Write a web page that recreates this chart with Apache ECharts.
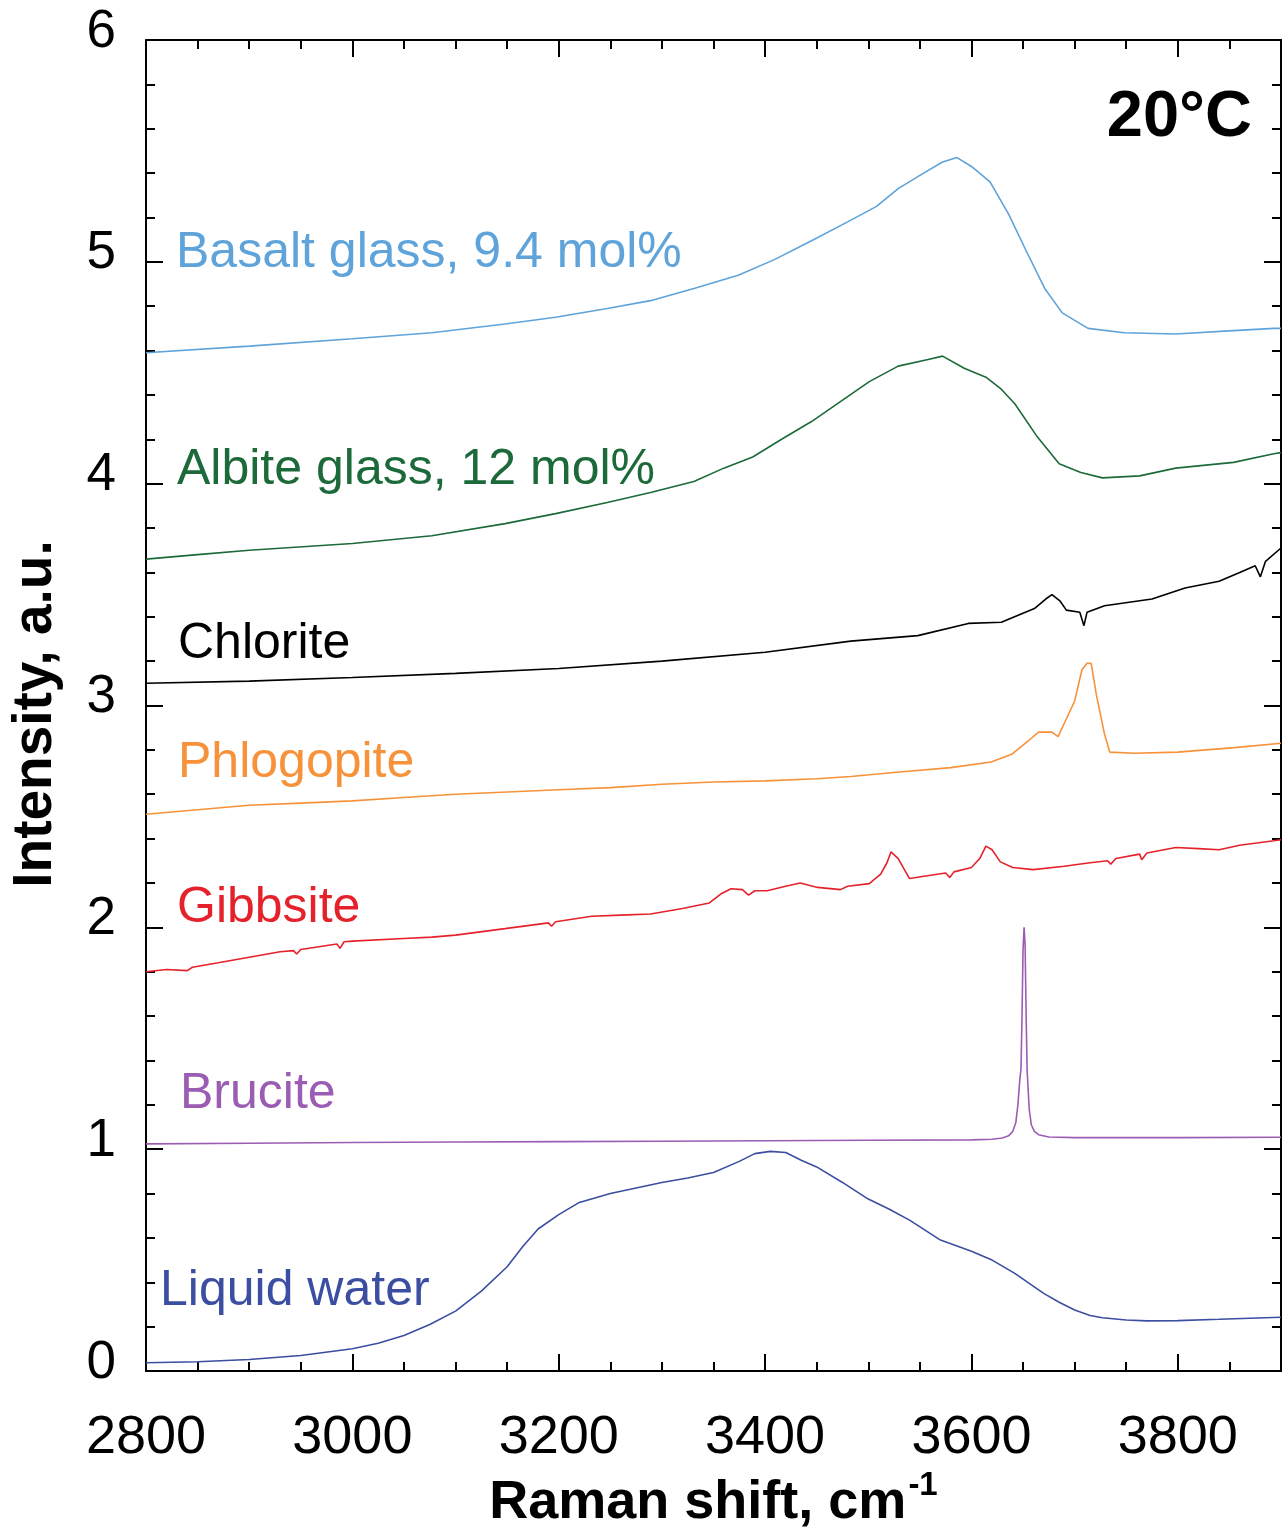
<!DOCTYPE html>
<html>
<head>
<meta charset="utf-8">
<script src="https://cdn.jsdelivr.net/npm/echarts@6/dist/echarts.min.js"></script>
<style>
html,body{margin:0;padding:0;background:#fff;}
#chart{width:1287px;height:1533px;}
</style>
</head>
<body>
<div id="chart"></div>
<script>
// ---- Data (Raman shift cm-1, intensity a.u.) ----
const waterX = [2800,2850,2900,2950,3000,3025,3050,3075,3100,3125,3150,3165,3180,3200,3220,3250,3275,3300,3325,3350,3375,3390,3405,3420,3435,3450,3475,3500,3520,3540,3570,3600,3620,3642,3670,3685,3700,3715,3727,3750,3770,3800,3840,3870,3900];
const waterY = [0.037,0.042,0.052,0.07,0.10,0.125,0.16,0.21,0.27,0.36,0.47,0.56,0.64,0.705,0.76,0.80,0.825,0.85,0.87,0.895,0.945,0.98,0.99,0.985,0.95,0.92,0.85,0.775,0.73,0.68,0.59,0.54,0.50,0.44,0.35,0.31,0.275,0.25,0.24,0.23,0.226,0.227,0.233,0.238,0.242];

const bruciteX = [2800,2900,3000,3100,3200,3300,3400,3500,3600,3620,3630,3636,3640,3643,3645,3647,3648,3649,3650,3651,3652,3653,3654,3656,3658,3661,3665,3675,3700,3800,3900];
const bruciteY = [1.024,1.027,1.03,1.032,1.034,1.036,1.038,1.04,1.042,1.045,1.05,1.06,1.08,1.12,1.2,1.32,1.36,1.6,1.9,2.0,1.92,1.6,1.35,1.18,1.11,1.08,1.065,1.055,1.052,1.052,1.054];

const gibbsiteX = [2800,2820,2840,2845,2870,2900,2930,2943,2946,2950,2985,2988,2992,3000,3050,3077,3100,3148,3190,3193,3197,3232,3260,3289,3320,3346,3357,3367,3378,3384,3390,3402,3420,3434,3451,3473,3480,3501,3512,3518,3522,3529,3535,3540,3554,3575,3579,3583,3600,3608,3614,3620,3628,3640,3660,3690,3713,3732,3735,3740,3763,3765,3770,3798,3820,3840,3860,3893,3900];
const gibbsiteY = [1.80,1.81,1.805,1.82,1.84,1.865,1.89,1.895,1.88,1.90,1.925,1.905,1.935,1.938,1.95,1.956,1.965,1.994,2.02,2.005,2.025,2.05,2.055,2.06,2.085,2.11,2.15,2.174,2.17,2.145,2.165,2.165,2.185,2.20,2.18,2.17,2.185,2.197,2.24,2.29,2.34,2.31,2.26,2.22,2.23,2.245,2.225,2.25,2.27,2.31,2.366,2.35,2.295,2.27,2.26,2.275,2.29,2.30,2.285,2.31,2.33,2.305,2.335,2.36,2.355,2.35,2.37,2.39,2.395];

const phlogopiteX = [2800,2850,2900,2950,3000,3050,3100,3150,3200,3250,3300,3350,3400,3450,3483,3530,3580,3619,3639,3655,3665,3678,3684,3690,3700,3707,3712,3716,3721,3729,3734,3758,3800,3855,3900];
const phlogopiteY = [2.51,2.53,2.55,2.56,2.57,2.585,2.60,2.61,2.62,2.63,2.645,2.655,2.66,2.67,2.68,2.70,2.72,2.745,2.78,2.84,2.88,2.88,2.86,2.92,3.02,3.16,3.19,3.19,3.05,2.87,2.79,2.785,2.79,2.81,2.83];

const chloriteX = [2800,2900,3000,3100,3200,3300,3400,3483,3548,3597,3629,3661,3672,3678,3686,3692,3705,3709,3712,3729,3775,3807,3840,3860,3875,3880,3885,3900];
const chloriteY = [3.10,3.11,3.126,3.145,3.167,3.20,3.24,3.29,3.315,3.37,3.375,3.437,3.48,3.50,3.47,3.43,3.42,3.36,3.42,3.45,3.48,3.53,3.56,3.60,3.63,3.58,3.65,3.71];

const albiteX = [2800,2850,2900,3000,3077,3148,3197,3247,3289,3331,3360,3388,3416,3445,3473,3501,3529,3558,3572,3593,3614,3628,3642,3664,3685,3706,3727,3763,3798,3854,3893,3900];
const albiteY = [3.66,3.68,3.70,3.73,3.765,3.82,3.865,3.915,3.96,4.01,4.07,4.12,4.20,4.28,4.37,4.46,4.53,4.56,4.575,4.52,4.48,4.43,4.36,4.21,4.09,4.05,4.026,4.035,4.07,4.096,4.135,4.14];

const basaltX = [2800,2900,3000,3077,3148,3197,3247,3289,3331,3374,3409,3445,3480,3508,3529,3550,3572,3586,3600,3618,3636,3653,3671,3688,3713,3748,3798,3854,3893,3900];
const basaltY = [4.59,4.62,4.653,4.68,4.72,4.75,4.79,4.825,4.88,4.94,5.01,5.095,5.18,5.25,5.33,5.39,5.45,5.47,5.43,5.36,5.215,5.05,4.88,4.77,4.70,4.68,4.675,4.69,4.70,4.70];

const seriesNames = ['Liquid water','Brucite','Gibbsite','Phlogopite','Chlorite','Albite glass, 12 mol%','Basalt glass, 9.4 mol%'];
const seriesColors = ['#3b4ea1','#9b5cb4','#e5222b','#f7923a','#000000','#1c6a3a','#5ea3da'];
const xTickLabels = ['2800','3000','3200','3400','3600','3800'];
const yTickLabels = ['0','1','2','3','4','5','6'];
const tempLabel = '20°C';
const yTitle = 'Intensity, a.u.';

const xs = [waterX,bruciteX,gibbsiteX,phlogopiteX,chloriteX,albiteX,basaltX];
const ys = [waterY,bruciteY,gibbsiteY,phlogopiteY,chloriteY,albiteY,basaltY];

const FONT = 'Liberation Sans, Arial, Helvetica, sans-serif';
const chart = echarts.init(document.getElementById('chart'));

const labelPos = [[160,1288],[180,1091],[177,905],[178,760],[178,641],[177,467],[176,250]];

function xAx(pos, interval, len, showLine, showLabel){
  return {
    type:'value', position:pos, min:2800, max:3900, interval:interval,
    axisLine:{show:showLine, onZero:false, lineStyle:{color:'#000', width:2}},
    axisTick:{show:true, inside:true, length:len, lineStyle:{color:'#000', width:2}},
    splitLine:{show:false},
    axisLabel:{show:showLabel, color:'#000', fontSize:54, fontFamily:FONT, margin:40,
      formatter: v => xTickLabels.indexOf(String(v)) >= 0 ? String(v) : ''},
  };
}
function yAx(pos, showLabel){
  return {
    type:'value', position:pos, min:0, max:6, interval:1,
    axisLine:{show:true, onZero:false, lineStyle:{color:'#000', width:2}},
    axisTick:{show:true, inside:true, length:17, lineStyle:{color:'#000', width:2}},
    minorTick:{show:true, splitNumber:5, length:9, lineStyle:{color:'#000', width:2}},
    splitLine:{show:false}, minorSplitLine:{show:false},
    axisLabel:{show:showLabel, color:'#000', fontSize:53, fontFamily:FONT, margin:30,
      verticalAlign:'bottom', lineHeight:16,
      formatter: v => yTickLabels.indexOf(String(v)) >= 0 ? String(v) : ''},
  };
}

const xMain = xAx('bottom',200,17,true,true);
xMain.name = '{a|Raman shift, cm}{b|-1}';
xMain.nameLocation = 'middle';
xMain.nameGap = 82;
xMain.nameTextStyle = {rich:{
  a:{fontSize:54, fontWeight:'bold', fontFamily:FONT, color:'#000', verticalAlign:'bottom', lineHeight:60},
  b:{fontSize:33, fontWeight:'bold', fontFamily:FONT, color:'#000', verticalAlign:'top', lineHeight:60, padding:[0,0,22,2]}
}};

const option = {
  backgroundColor:'#fff',
  animation:false,
  grid:{left:146, right:6, top:40, bottom:162, containLabel:false, outerBoundsMode:'none'},
  xAxis:[xMain, xAx('bottom',50,9,false,false), xAx('top',200,17,true,false), xAx('top',50,9,false,false)],
  yAxis:[yAx('left', true), yAx('right', false)],
  series: seriesNames.map((n,i)=>({
    name:n, type:'line', xAxisIndex:0, yAxisIndex:0, showSymbol:false, symbol:'none',
    smooth:false,
    lineStyle:{color:seriesColors[i], width:1.6}, silent:true,
    data: xs[i].map((x,j)=>[x, ys[i][j]])
  })),
  graphic: seriesNames.map((n,i)=>({
    type:'text', left:labelPos[i][0], top:labelPos[i][1]-22,
    style:{text:n, fill:seriesColors[i], font:'50px '+FONT}
  })).concat([{
    type:'text', right:1287-1252, top:86,
    style:{text:tempLabel, fill:'#000', font:'bold 65px '+FONT, textAlign:'right'}
  },{
    type:'text', x:36, y:714, rotation:Math.PI/2,
    style:{text:yTitle, fill:'#000', font:'bold 55px '+FONT, align:'center', verticalAlign:'middle'}
  }])
};
chart.setOption(option);
</script>
</body>
</html>
